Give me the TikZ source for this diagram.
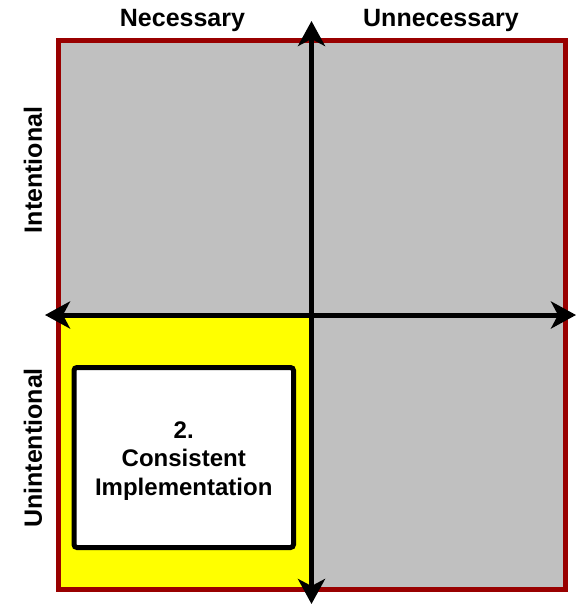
\documentclass[tikz,border=0pt]{standalone}
\usepackage{fontspec}
\setmainfont{Liberation Sans}
\usetikzlibrary{arrows.meta}
\definecolor{qred}{HTML}{990000}
\definecolor{qgray}{HTML}{C0C0C0}
\definecolor{qyellow}{HTML}{FFFF00}
\tikzset{
  axisboth/.style={line width=5pt, {Stealth[length=25pt,width=27pt,inset=7pt]}-{Stealth[length=25pt,width=27pt,inset=7pt]}},
  lbl/.style={font=\fontsize{25}{30}\selectfont\bfseries, inner sep=0pt},
  boxtxt/.style={font=\fontsize{24}{28.5}\selectfont\bfseries, align=center, inner sep=0pt}
}
\begin{document}
\begin{tikzpicture}[x=1pt,y=-1pt]
\useasboundingbox (0,0) rectangle (578,605);
% quadrants
\fill[qgray] (58.5,40.5) rectangle (565,589);
\fill[qyellow] (58.5,315) rectangle (311.5,589);
% border
\draw[qred, line width=5pt] (58.5,40.5) rectangle (565,589);
% white box
\node[draw=black, fill=white, line width=5pt, rounded corners=3pt, minimum width=219.5pt, minimum height=180pt, inner sep=0pt] (box) at (183.75,457.5) {};
\node[boxtxt] (boxlabel) at (183.75,461) {2.\\Consistent\\Implementation};
% axes
\coordinate (vtop) at (311.5,21);
\coordinate (vbot) at (311.5,604);
\coordinate (hleft) at (45,315);
\coordinate (hright) at (576,315);
\draw[axisboth] (vtop) -- (vbot);
\draw[axisboth] (hleft) -- (hright);
% labels
\node[lbl] (nec) at (182.5,20) {Necessary};
\node[lbl] (unnec) at (441,20) {Unnecessary};
\node[lbl, rotate=90] (int) at (33,170) {Intentional};
\node[lbl, rotate=90] (unint) at (33,448) {Unintentional};
\end{tikzpicture}
\end{document}
